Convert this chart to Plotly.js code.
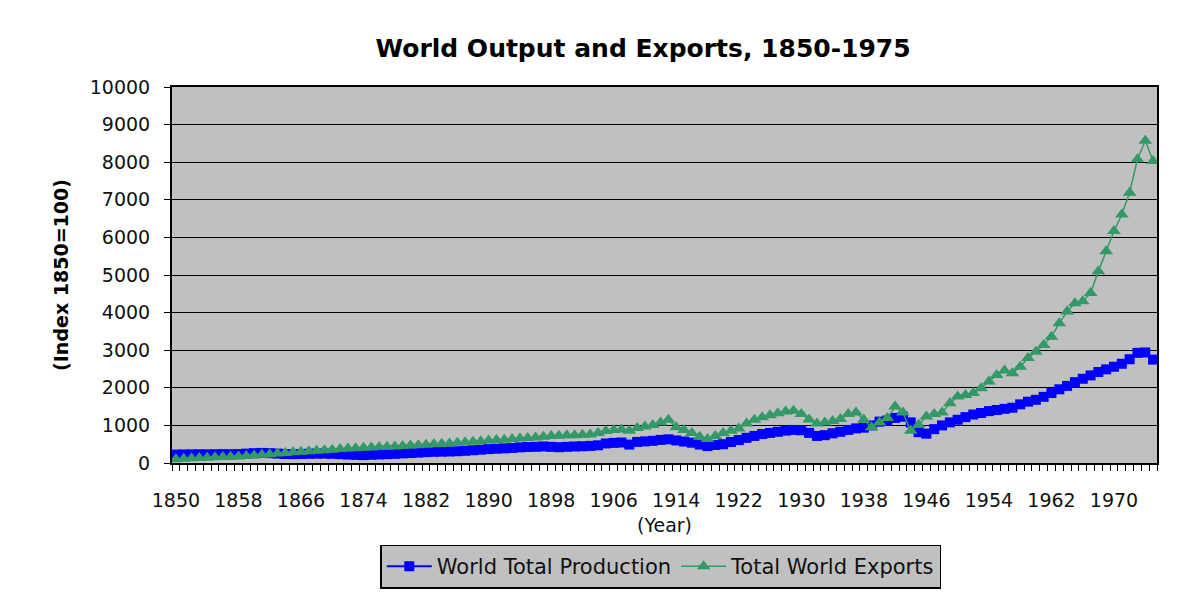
<!DOCTYPE html>
<html>
<head>
<meta charset="utf-8">
<script src="https://cdn.plot.ly/plotly-3.0.1.min.js"></script>
<style>html,body{margin:0;padding:0;background:#fff;}#chart{width:1180px;height:592px;}</style>
</head>
<body>
<div id="chart"></div>
<script>
var years = [
1850,1851,1852,1853,1854,1855,1856,1857,1858,1859,
1860,1861,1862,1863,1864,1865,1866,1867,1868,1869,
1870,1871,1872,1873,1874,1875,1876,1877,1878,1879,
1880,1881,1882,1883,1884,1885,1886,1887,1888,1889,
1890,1891,1892,1893,1894,1895,1896,1897,1898,1899,
1900,1901,1902,1903,1904,1905,1906,1907,1908,1909,
1910,1911,1912,1913,1914,1915,1916,1917,1918,1919,
1920,1921,1922,1923,1924,1925,1926,1927,1928,1929,
1930,1931,1932,1933,1934,1935,1936,1937,1938,1939,
1940,1941,1942,1943,1944,1945,1946,1947,1948,1949,
1950,1951,1952,1953,1954,1955,1956,1957,1958,1959,
1960,1961,1962,1963,1964,1965,1966,1967,1968,1969,
1970,1971,1972,1973,1974,1975];

var worldProduction = [
225,228,230,232,230,233,236,234,238,250,
262,268,262,250,240,236,240,245,248,250,
245,235,225,215,210,220,228,235,245,255,
265,275,290,298,302,306,313,325,340,355,
370,380,390,400,415,425,430,440,430,420,
430,440,445,455,470,520,535,545,490,560,
575,590,615,630,600,570,540,490,450,480,
500,560,610,670,720,770,800,830,860,880,
870,800,720,740,790,830,880,920,940,1000,
1100,1130,1200,1230,1080,820,780,900,1000,1080,
1150,1220,1290,1330,1380,1410,1440,1470,1560,1630,
1680,1760,1860,1960,2050,2150,2240,2330,2420,2490,
2560,2640,2760,2930,2940,2750];

var worldExports = [
100,110,125,135,140,150,160,165,170,185,
200,220,235,250,265,285,300,315,325,340,
355,370,385,395,405,415,425,435,440,455,
465,475,485,500,510,520,540,555,565,580,
600,610,620,635,650,665,680,700,715,725,
735,740,750,760,800,850,880,890,860,930,
970,1010,1080,1150,950,880,800,700,640,720,
800,860,920,1050,1150,1220,1270,1320,1370,1390,
1300,1160,1050,1080,1120,1170,1300,1340,1150,950,
1080,1200,1500,1340,860,1020,1240,1300,1340,1590,
1770,1810,1860,1990,2170,2340,2460,2390,2560,2790,
2960,3140,3360,3720,4030,4250,4300,4520,5100,5630,
6170,6610,7190,8080,8570,8030];

var xTickYears = [1850,1858,1866,1874,1882,1890,1898,1906,1914,1922,1930,1938,1946,1954,1962,1970];
var xTickLabels = ["1850","1858","1866","1874","1882","1890","1898","1906","1914","1922","1930","1938","1946","1954","1962","1970"];
var yTickVals = [0,1000,2000,3000,4000,5000,6000,7000,8000,9000,10000];
var yTickLabels = ["0","1000","2000","3000","4000","5000","6000","7000","8000","9000","10000"];

var FONT = "DejaVu Sans, Arial, sans-serif";

var traces = [
  {
    x: years, y: worldProduction, name: "World Total Production",
    type: "scatter", mode: "lines+markers",
    line: {color: "#0000ff", width: 2},
    marker: {symbol: "square", size: 10, color: "#0000ff"}
  },
  {
    x: years, y: worldExports, name: "Total World Exports",
    type: "scatter", mode: "lines+markers",
    line: {color: "#339966", width: 1.5},
    marker: {symbol: "triangle-up", size: 12, color: "#339966"}
  }
];

var layout = {
  width: 1180, height: 592,
  paper_bgcolor: "#ffffff",
  plot_bgcolor: "#c0c0c0",
  margin: {l: 172, r: 23, t: 87, b: 129},
  font: {family: FONT, size: 19, color: "#000"},
  title: {
    text: "World Output and Exports, 1850-1975",
    font: {family: FONT, size: 25, color: "#000", weight: "bold"},
    x: 0.545, xref: "container", xanchor: "center",
    y: 0.919, yref: "container", yanchor: "middle"
  },
  xaxis: {
    automargin: false,
    range: [1849.5, 1975.5],
    tickmode: "array", tickvals: xTickYears, ticktext: xTickLabels,
    ticks: "outside", ticklen: 19, tickcolor: "rgba(0,0,0,0)",
    minor: {tickmode: "linear", tick0: 1849.5, dtick: 1, ticks: "outside", ticklen: 6, tickwidth: 1, tickcolor: "#000", showgrid: false},
    showgrid: false, zeroline: false,
    showline: true, linecolor: "#000", linewidth: 2, mirror: true,
    tickfont: {family: FONT, size: 19, color: "#111"},
    title: {text: "(Year)", font: {family: FONT, size: 19, color: "#111"}, standoff: 9}
  },
  yaxis: {
    automargin: false,
    range: [0, 10000],
    tickmode: "array", tickvals: yTickVals, ticktext: yTickLabels,
    ticks: "outside", ticklen: 6, tickwidth: 1, tickcolor: "#000",
    ticklabelstandoff: 10,
    showgrid: true, gridcolor: "#000", gridwidth: 1,
    zeroline: false,
    showline: true, linecolor: "#000", linewidth: 2, mirror: true,
    tickfont: {family: FONT, size: 19, color: "#111"},
    title: {text: "(Index 1850=100)", font: {family: FONT, size: 19, color: "#000", weight: "bold"}, standoff: 16}
  },
  showlegend: true,
  legend: {
    orientation: "h",
    x: 0.56, xanchor: "center", xref: "container",
    y: 0.043, yanchor: "middle", yref: "container",
    bgcolor: "#c0c0c0", bordercolor: "#000", borderwidth: 1.5,
    font: {family: FONT, size: 21, color: "#111"},
    itemwidth: 45
  }
};

Plotly.newPlot("chart", traces, layout, {displayModeBar: false, staticPlot: true});
</script>
</body>
</html>
